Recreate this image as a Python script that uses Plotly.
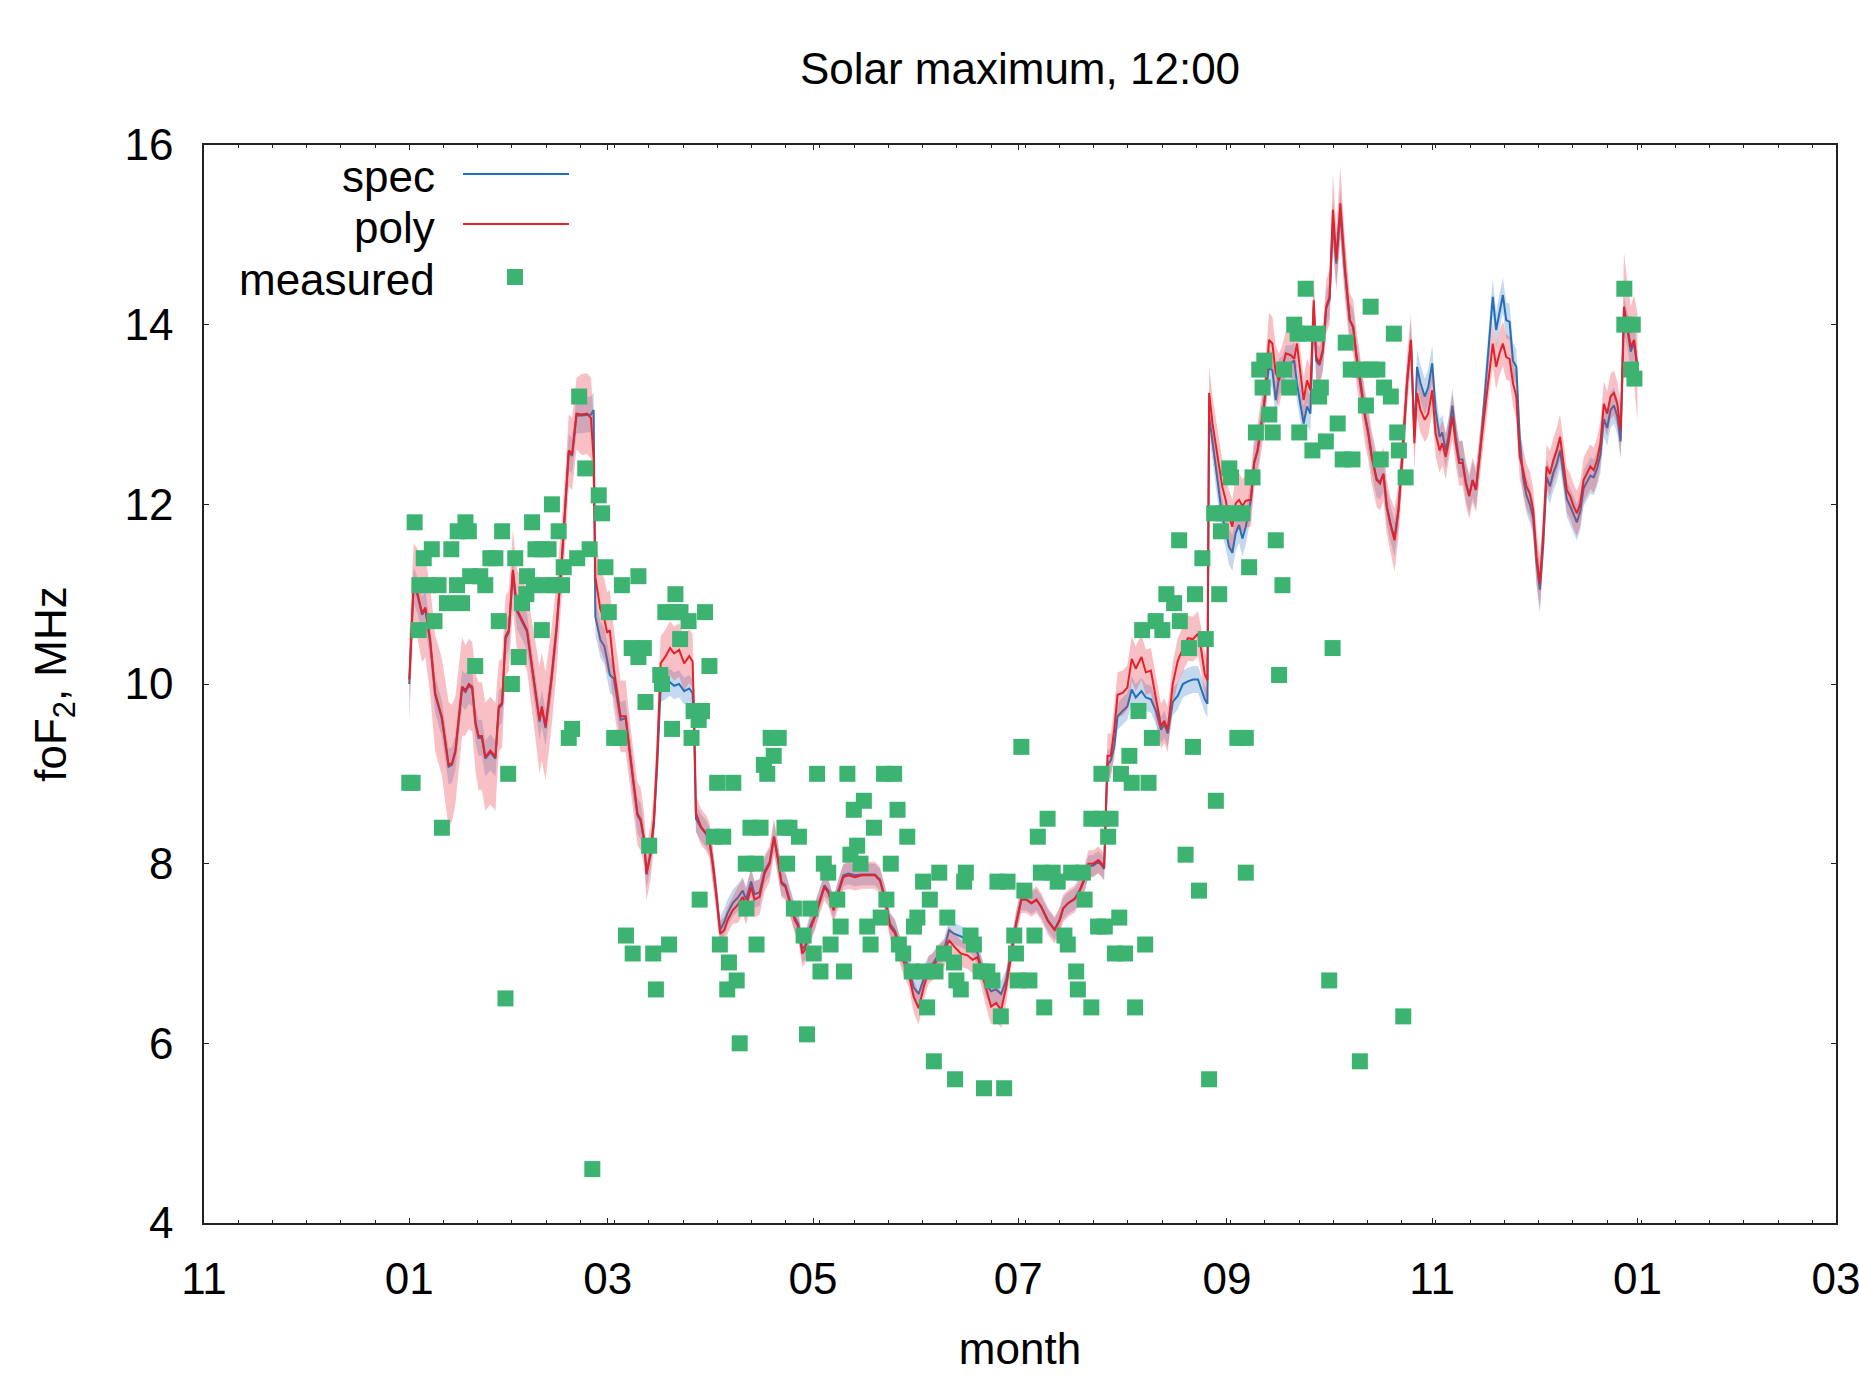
from datetime import datetime, timedelta
import plotly.graph_objects as go

# ---------------- data (day offset from 1 January) ----------------
day = [
    0, 1.3, 2.5, 3.8, 4.8, 6.2, 7.7, 9.7, 11.7, 12.7,
    13.7, 15.7, 16.7, 17.7, 18.7, 19.7, 20.6, 21.6, 22.6, 24.1,
    25.6, 26.6, 27.6, 28.6, 29.6, 30.8, 32, 33.5, 35, 36.5,
    38, 38.7, 39.4, 40.5, 42.3, 43.8, 45.4, 46.4, 47.4, 48.4,
    49.7, 51.3, 52.8, 54, 54.8, 55.3, 56.8, 58, 58.8, 59.6,
    60.8, 62.8, 64.3, 65.8, 67.8, 68.8, 69.8, 70.5, 71.7, 72.7,
    73.7, 74.7, 76.2, 77.5, 78.7, 80.2, 81.7, 83.2, 84.2, 84.7,
    85.2, 86.7, 88.2, 89.2, 90.2, 91.2, 92.4, 93.6, 94.6, 96.1,
    97.6, 99.1, 100.1, 101.6, 102.6, 104.1, 105.6, 107.1, 108.4, 109.6,
    110.6, 111.8, 113.1, 114.6, 115.6, 116.8, 117.6, 119.1, 120.6,
    122.1, 123.4, 124.6, 126.1, 127.5, 129, 130.5, 132.5, 134.5, 136.5,
    138.4, 139.9, 141.4, 142.9, 144.4, 146.4, 148.4, 149.9, 151.4, 152.9,
    154.4, 155.5, 157, 159, 160.4, 161.9, 163.9, 165.9, 167.4, 168.9,
    169.9, 171.4, 172.9, 174.4, 175.9, 177.4, 178.9, 180.4,
    181.9, 183.4, 184.9, 186.4, 187.8, 189.8, 191.8, 193.3, 194.3, 195.8,
    197.8, 199.3, 200.8, 201.8, 203.3, 204.8, 205.8, 206.5, 207.5, 208.5,
    209.5, 210.5, 212, 213.4, 214.7, 215.9, 217.6, 218.9, 220.4, 221.9,
    223.4, 224.4, 225.4, 226.9, 228.4, 229.9, 231.4, 232.9, 234.4, 235.4,
    236.4, 237.2,
    237.7, 238.7, 240.2, 241.6, 242.6, 243.6, 244.6, 245.6, 246.6, 247.6,
    248.6, 250.1, 251.1, 252.1, 253.1, 254.1, 255.5, 256.5, 257.5, 258.5,
    259.5, 260.5, 262, 263, 263.8, 264.8, 265.8, 266.8, 267.8, 268.8,
    269.5, 270.5, 271.5, 272.5, 273.5, 274.5, 275.5, 276.7, 278, 279.5,
    280.5, 281.5, 283, 284, 285, 286, 287.5, 288.5, 289.5, 290.5,
    291.5, 292.8, 294, 295.5, 296.5, 297.7, 298.7, 299.5, 300.5,
    301.8, 302.8, 304, 305, 306.2, 307, 308, 308.8, 310, 311,
    312, 313, 314, 315, 316, 317, 318.5, 320, 321, 322,
    323, 324, 325, 326, 327, 328, 329, 330, 331, 332,
    333, 334, 335, 336, 337, 338, 339, 340, 341, 342,
    343, 344, 345, 346, 347, 348, 349, 350, 351, 352,
    353, 354, 355, 356, 357, 358, 359, 360, 361, 362,
    363, 364, 365,
]

poly = [
    10.05, 11.12, 11.0, 10.79, 10.85, 10.49, 9.9, 9.63, 9.1, 9.12,
    9.26, 9.97, 9.93, 10.0, 9.97, 9.57, 9.42, 9.42, 9.19, 9.26,
    9.19, 9.75, 9.79, 10.53, 10.6, 11.27, 10.83, 10.72, 10.6, 10.19,
    9.79, 9.6, 9.75, 9.53, 10.08, 10.64, 11.42, 11.97, 12.6, 12.56,
    13.01, 13.0, 13.01, 12.96, 12.5, 11.19, 10.83, 10.72, 10.57, 10.6,
    10.16, 9.64, 9.64, 9.16, 8.56, 8.49, 8.27, 7.89, 8.12, 8.49,
    9.23, 10.23, 10.31, 10.4, 10.34, 10.38, 10.23, 10.31, 10.25, 9.6,
    8.56, 8.41, 8.34, 8.26, 8.0, 7.67, 7.22, 7.26, 7.37, 7.48,
    7.54, 7.63, 7.52, 7.74, 7.6, 7.63, 7.89, 8.0, 8.3, 8.04,
    7.78, 7.74, 7.56, 7.37, 7.3, 7.0, 7.04, 7.26, 7.41,
    7.6, 7.74, 7.67, 7.48, 7.67, 7.85, 7.87, 7.85, 7.87, 7.87,
    7.87, 7.81, 7.6, 7.3, 7.22, 6.96, 6.78, 6.52, 6.39, 6.63,
    6.82, 6.85, 6.93, 7.0, 7.15, 7.08, 7.0, 6.98, 6.93, 6.96,
    6.82, 6.59, 6.41, 6.45, 6.37, 6.63, 7.0, 7.34,
    7.6, 7.6, 7.56, 7.6, 7.52, 7.36, 7.26, 7.37, 7.5, 7.56,
    7.61, 7.71, 7.85, 8.0, 8.0, 8.04, 8.0, 7.96, 9.2, 9.2,
    9.49, 9.88, 9.9, 9.96, 10.28, 10.17, 10.3, 10.13, 10.15, 9.83,
    9.53, 9.59, 9.49, 10.0, 10.26, 10.39, 10.51, 10.5, 10.56, 10.37,
    10.11, 10.04,
    13.24, 12.9, 12.53, 12.2, 12.05, 11.86, 11.75, 12.01, 12.05, 11.98,
    12.04, 12.05, 12.47, 12.6, 12.86, 13.12, 13.83, 13.79, 13.46, 13.38,
    13.53, 13.68, 13.66, 13.62, 13.79, 13.46, 13.16, 13.38, 13.27, 14.27,
    13.64, 13.57, 13.72, 14.2, 14.31, 15.28, 14.72, 15.35, 14.65, 14.05,
    13.98, 13.64, 13.27, 12.98, 12.79, 12.53, 12.27, 12.23, 12.34, 11.97,
    11.79, 11.6, 11.94, 12.72, 13.35, 13.83, 12.68, 13.24, 13.05,
    12.94, 13.01, 13.27, 12.79, 12.6, 12.68, 12.53, 12.68, 12.98, 12.68,
    12.46, 12.46, 12.23, 12.09, 12.27, 12.16, 12.68, 13.16, 13.49, 13.79,
    13.53, 13.68, 13.79, 13.64, 13.62, 13.35, 13.2, 12.53, 12.38, 12.2,
    12.12, 11.94, 11.42, 11.12, 11.68, 12.42, 12.34, 12.49, 12.6, 12.75,
    12.46, 12.16, 12.09, 11.98, 11.9, 12.01, 12.27, 12.34, 12.42, 12.38,
    12.49, 12.68, 13.12, 13.01, 13.2, 13.24, 13.12, 12.83, 14.2, 13.98,
    13.75, 13.83, 13.53,
]

poly_err = [
    0.45, 0.45, 0.5, 0.55, 0.55, 0.6, 0.65, 0.65, 0.7, 0.65,
    0.6, 0.55, 0.5, 0.5, 0.5, 0.55, 0.6, 0.6, 0.6, 0.6,
    0.6, 0.5, 0.5, 0.45, 0.45, 0.45, 0.45, 0.45, 0.45, 0.5,
    0.55, 0.6, 0.6, 0.6, 0.55, 0.5, 0.45, 0.4, 0.4, 0.4,
    0.4, 0.45, 0.45, 0.45, 0.45, 0.45, 0.45, 0.45, 0.45, 0.45,
    0.45, 0.4, 0.4, 0.35, 0.35, 0.35, 0.3, 0.3, 0.3, 0.3,
    0.3, 0.3, 0.3, 0.3, 0.3, 0.3, 0.3, 0.3, 0.3, 0.3,
    0.2, 0.2, 0.2, 0.2, 0.2, 0.2, 0.15, 0.15, 0.15, 0.15,
    0.2, 0.2, 0.2, 0.2, 0.2, 0.2, 0.2, 0.2, 0.2, 0.2,
    0.15, 0.15, 0.15, 0.15, 0.15, 0.15, 0.15, 0.15, 0.15,
    0.15, 0.15, 0.15, 0.15, 0.15, 0.15, 0.15, 0.15, 0.15, 0.15,
    0.15, 0.15, 0.15, 0.15, 0.15, 0.15, 0.15, 0.18, 0.18, 0.15,
    0.15, 0.15, 0.15, 0.15, 0.15, 0.15, 0.15, 0.15, 0.15, 0.15,
    0.15, 0.18, 0.2, 0.2, 0.2, 0.18, 0.15, 0.15,
    0.15, 0.15, 0.15, 0.15, 0.15, 0.15, 0.15, 0.15, 0.15, 0.15,
    0.15, 0.15, 0.15, 0.15, 0.15, 0.15, 0.15, 0.15, 0.25, 0.25,
    0.25, 0.25, 0.25, 0.25, 0.25, 0.25, 0.25, 0.25, 0.25, 0.25,
    0.25, 0.25, 0.25, 0.25, 0.25, 0.25, 0.25, 0.25, 0.25, 0.25,
    0.25, 0.25,
    0.3, 0.3, 0.3, 0.3, 0.3, 0.3, 0.3, 0.3, 0.3, 0.3,
    0.3, 0.3, 0.3, 0.3, 0.3, 0.3, 0.3, 0.3, 0.3, 0.3,
    0.25, 0.25, 0.25, 0.25, 0.25, 0.25, 0.25, 0.25, 0.25, 0.3,
    0.25, 0.25, 0.25, 0.3, 0.3, 0.4, 0.35, 0.4, 0.35, 0.3,
    0.3, 0.3, 0.3, 0.3, 0.3, 0.3, 0.3, 0.3, 0.3, 0.3,
    0.3, 0.35, 0.3, 0.3, 0.3, 0.3, 0.3, 0.25, 0.25,
    0.25, 0.25, 0.25, 0.25, 0.25, 0.25, 0.25, 0.25, 0.25, 0.25,
    0.25, 0.25, 0.25, 0.25, 0.25, 0.25, 0.25, 0.25, 0.25, 0.25,
    0.25, 0.25, 0.25, 0.25, 0.25, 0.25, 0.25, 0.25, 0.25, 0.25,
    0.25, 0.25, 0.3, 0.3, 0.25, 0.25, 0.25, 0.25, 0.25, 0.25,
    0.25, 0.25, 0.25, 0.25, 0.25, 0.25, 0.25, 0.25, 0.25, 0.25,
    0.25, 0.25, 0.25, 0.25, 0.25, 0.25, 0.25, 0.3, 0.6, 0.5,
    0.45, 0.5, 0.6,
]

spec = [
    10.0, 11.1, 10.98, 10.77, 10.83, 10.47, 9.88, 9.61, 9.08, 9.1,
    9.24, 9.95, 9.91, 9.98, 9.95, 9.55, 9.4, 9.4, 9.17, 9.24,
    9.17, 9.73, 9.77, 10.5, 10.58, 11.25, 10.81, 10.7, 10.58, 10.17,
    9.77, 9.58, 9.73, 9.51, 10.06, 10.62, 11.4, 11.95, 12.58, 12.54,
    12.99, 12.99, 13.0, 13.0, 13.05, 10.75, 10.49, 10.42, 10.27, 10.1,
    10.06, 9.6, 9.62, 9.14, 8.54, 8.47, 8.25, 7.88, 8.1, 8.45,
    9.1, 9.95, 9.98, 10.02, 9.98, 10.0, 9.92, 9.95, 9.9, 9.4,
    8.5, 8.4, 8.33, 8.25, 8.0, 7.68, 7.26, 7.35, 7.45, 7.56,
    7.62, 7.7, 7.6, 7.8, 7.66, 7.68, 7.92, 8.02, 8.3, 8.05,
    7.8, 7.76, 7.58, 7.4, 7.33, 7.05, 7.08, 7.3, 7.43,
    7.62, 7.76, 7.7, 7.5, 7.7, 7.87, 7.89, 7.87, 7.88, 7.88,
    7.88, 7.82, 7.62, 7.33, 7.25, 7.0, 6.85, 6.62, 6.55, 6.72,
    6.86, 6.88, 6.97, 7.05, 7.26, 7.22, 7.19, 7.15, 7.1, 7.0,
    6.86, 6.66, 6.58, 6.6, 6.55, 6.7, 7.03, 7.35,
    7.6, 7.6, 7.56, 7.6, 7.52, 7.37, 7.27, 7.38, 7.5, 7.56,
    7.61, 7.7, 7.83, 7.97, 7.98, 8.02, 7.98, 7.94, 9.1, 9.15,
    9.3, 9.64, 9.7, 9.75, 9.94, 9.85, 9.92, 9.85, 9.83, 9.7,
    9.49, 9.55, 9.45, 9.8, 9.87, 10.0, 10.03, 10.05, 10.05, 9.95,
    9.83, 9.78,
    12.98, 12.7, 12.24, 11.86, 11.72, 11.53, 11.46, 11.68, 11.77, 11.62,
    11.75, 12.05, 12.46, 12.6, 12.86, 13.12, 13.53, 13.49, 13.16, 13.42,
    13.45, 13.57, 13.57, 13.6, 13.35, 13.12, 12.9, 13.09, 13.01, 14.2,
    13.6, 13.55, 13.7, 14.18, 14.28, 15.15, 14.68, 15.25, 14.62, 14.05,
    13.97, 13.65, 13.3, 13.0, 12.8, 12.55, 12.28, 12.25, 12.34, 11.98,
    11.8, 11.62, 11.95, 12.7, 13.35, 13.83, 12.75, 13.53, 13.35,
    13.2, 13.3, 13.57, 13.05, 12.75, 12.8, 12.6, 12.75, 13.1, 12.75,
    12.5, 12.5, 12.25, 12.1, 12.27, 12.16, 12.7, 13.4, 13.9, 14.31,
    13.94, 14.15, 14.33, 14.05, 14.03, 13.6, 13.53, 12.75, 12.3, 12.1,
    12.0, 11.85, 11.35, 11.05, 11.55, 12.3, 12.2, 12.35, 12.45, 12.6,
    12.35, 12.06, 11.98, 11.88, 11.8, 11.92, 12.18, 12.25, 12.32, 12.3,
    12.4, 12.55, 12.95, 12.85, 13.05, 13.1, 12.98, 12.7, 14.1, 13.95,
    13.7, 13.8, 13.5,
]

spec_err = [
    0.2, 0.2, 0.2, 0.2, 0.2, 0.2, 0.2, 0.2, 0.2, 0.2,
    0.2, 0.2, 0.2, 0.2, 0.2, 0.2, 0.2, 0.2, 0.2, 0.2,
    0.2, 0.2, 0.2, 0.2, 0.2, 0.2, 0.2, 0.2, 0.2, 0.2,
    0.2, 0.2, 0.2, 0.2, 0.2, 0.2, 0.2, 0.2, 0.2, 0.2,
    0.2, 0.2, 0.2, 0.2, 0.2, 0.2, 0.2, 0.2, 0.2, 0.2,
    0.2, 0.2, 0.2, 0.2, 0.2, 0.2, 0.15, 0.15, 0.15, 0.15,
    0.15, 0.15, 0.15, 0.15, 0.15, 0.15, 0.15, 0.15, 0.15, 0.15,
    0.15, 0.15, 0.15, 0.15, 0.15, 0.15, 0.15, 0.15, 0.15, 0.15,
    0.15, 0.15, 0.15, 0.15, 0.15, 0.15, 0.15, 0.15, 0.15, 0.15,
    0.15, 0.15, 0.15, 0.15, 0.15, 0.15, 0.15, 0.15, 0.15,
    0.12, 0.12, 0.12, 0.12, 0.12, 0.12, 0.12, 0.12, 0.12, 0.12,
    0.12, 0.12, 0.12, 0.12, 0.12, 0.12, 0.12, 0.15, 0.15, 0.15,
    0.12, 0.12, 0.12, 0.12, 0.12, 0.12, 0.12, 0.12, 0.12, 0.12,
    0.12, 0.15, 0.15, 0.15, 0.15, 0.12, 0.12, 0.12,
    0.12, 0.12, 0.12, 0.12, 0.12, 0.12, 0.12, 0.12, 0.12, 0.12,
    0.12, 0.12, 0.12, 0.12, 0.12, 0.12, 0.12, 0.12, 0.15, 0.15,
    0.15, 0.15, 0.15, 0.15, 0.15, 0.15, 0.15, 0.15, 0.15, 0.15,
    0.15, 0.15, 0.15, 0.15, 0.15, 0.15, 0.15, 0.15, 0.15, 0.15,
    0.15, 0.15,
    0.2, 0.2, 0.2, 0.2, 0.2, 0.2, 0.2, 0.2, 0.2, 0.2,
    0.2, 0.2, 0.2, 0.2, 0.2, 0.2, 0.2, 0.2, 0.2, 0.2,
    0.2, 0.2, 0.2, 0.2, 0.2, 0.2, 0.2, 0.2, 0.2, 0.2,
    0.2, 0.2, 0.2, 0.2, 0.2, 0.25, 0.25, 0.25, 0.25, 0.2,
    0.2, 0.2, 0.2, 0.2, 0.2, 0.2, 0.2, 0.2, 0.2, 0.2,
    0.2, 0.2, 0.2, 0.2, 0.2, 0.2, 0.2, 0.2, 0.2,
    0.2, 0.2, 0.2, 0.2, 0.2, 0.2, 0.2, 0.2, 0.2, 0.2,
    0.2, 0.2, 0.2, 0.2, 0.2, 0.2, 0.2, 0.2, 0.2, 0.2,
    0.2, 0.2, 0.2, 0.2, 0.2, 0.2, 0.2, 0.2, 0.2, 0.2,
    0.2, 0.2, 0.25, 0.25, 0.2, 0.2, 0.2, 0.2, 0.2, 0.2,
    0.2, 0.2, 0.2, 0.2, 0.2, 0.2, 0.2, 0.2, 0.2, 0.2,
    0.2, 0.2, 0.2, 0.2, 0.2, 0.2, 0.2, 0.2, 0.2, 0.2,
    0.2, 0.2, 0.2,
]

meas_day = [
    0, 1, 1.6, 2.8, 3, 4.3, 5.7, 6.7, 7.5, 8.7,
    9.7, 11.2, 12.5, 14.2, 14.4, 15.7, 16.7, 17.7, 18.1, 19.6,
    21.1, 22.6, 24.1, 25.6, 26.6, 27.6, 28.6, 29.4, 30.5, 31.5,
    32.5, 33.5, 35, 34.8, 36.5, 37, 37.5, 39.4, 39.4, 40.9,
    41.4, 42.4, 42.9, 44.4, 45.4, 45.9, 47.4, 48.4, 49.9, 50.5,
    52.3, 53.6, 54.4, 56.3, 57.3, 58.3, 59.3,
    60.9, 62.4, 63.2, 64.4, 66.4, 66.1, 68.1, 68.1, 69.7, 70.2,
    71.3, 72.5, 73.3, 74.6, 75.1, 76.1, 77.2, 78.1, 78.6, 79.1,
    80.5, 80.6, 83, 83.9, 84.5, 86, 86.3, 87, 87.9, 89.2,
    90.5, 91.5, 92.3, 93.3, 94.5, 95, 96.3, 97.3, 98.2, 100,
    100.2, 101.4, 103, 103.2, 104.4, 105.4, 106.4, 107.4, 108.3, 109.8,
    111.5, 113, 112.3, 114.3, 115.8, 117.2, 118.2, 119.2, 120.2,
    121.2, 122.2, 123.2, 124.5, 125.2, 127.2, 128.2, 129.2, 130.2, 131.1,
    132.1, 133.1, 134.1, 135.1, 136.1, 137.1, 138.1, 140.1, 141.1, 141.8,
    143.1, 144.1, 145.1, 145.5, 146.8, 148, 149.3, 150, 151, 152.7,
    152.9, 153.9, 154.7, 155.9, 156.4, 157.5, 158.9, 159.9, 161.9, 162.2,
    162.6, 163.9, 164.9, 165.4, 166.8, 167.8, 169.8, 170.8, 171.8, 173.3,
    174.8, 175.8, 176.8, 177.8, 179.8, 180.3, 180.8,
    181.9, 182.8, 184.3, 185.8, 186.8, 187.7, 188.7, 189.7, 191.2, 192.7,
    194.7, 195.7, 196.7, 198.2, 198.7, 200.2, 200.7, 202.7, 202.7, 204.7,
    205.7, 205.7, 206.7, 207.7, 208.4, 209.7, 211, 211.5, 212.7, 214,
    214.7, 215.7, 216.7, 217.8, 218.7, 219.7, 220.7, 221.8, 223.8, 225,
    227.3, 229, 228.8, 230.7, 231.7, 232.9, 233.5, 234.7, 235.7, 236.7,
    237.7,
    239.2, 239.7, 240.7, 241.2, 241.7, 243.7, 244.2, 244.6, 246.1, 247.6,
    248.6, 248.6, 249.6, 250.6, 251.6, 252.6, 253.6, 254.1, 255.6, 256.6,
    257.5, 258.5, 259.5, 260, 261.5, 263, 264, 264.5, 266.4, 266.9,
    268.4, 269.9, 270.4, 270.9, 272.4, 273.4, 274.4, 275.9, 277.4, 278.3,
    279.8, 280.3, 282.5, 282.8, 284.3, 285.7, 285.7, 287.7, 288.7, 289.7,
    291.7, 292.6, 293.6, 294.1, 295.4, 296.1, 361.1, 361.1, 363.6, 363.1,
    364.1,
]

meas_val = [
    8.9, 8.9, 11.8, 10.6, 11.1, 11.4, 11.1, 11.5, 10.7, 11.1,
    8.4, 10.9, 11.5, 11.1, 11.7, 10.9, 11.8, 11.7, 11.2, 10.2,
    11.2, 11.1, 11.4, 11.4, 10.7, 11.7, 6.5, 9.0, 10.0, 11.4,
    10.3, 10.9, 11.2, 11.0, 11.8, 11.1, 11.5, 11.5, 10.6, 11.1,
    11.5, 12.0, 11.1, 11.7, 11.1, 11.3, 9.4, 9.5, 11.4, 13.2,
    12.4, 11.5, 4.6, 12.1, 11.9, 11.3, 10.8,
    9.4, 9.4, 11.1, 7.2, 7.0, 10.4, 11.2, 10.3, 10.4, 9.8,
    8.2, 7.0, 6.6, 10.1, 10.0, 10.8, 7.1, 9.5, 10.8, 11.0,
    10.5, 10.8, 10.7, 9.4, 9.7, 9.6, 7.6, 9.7, 10.8, 10.2,
    8.3, 8.9, 7.1, 8.3, 6.6, 6.9, 8.9, 6.7, 6.0, 8.0,
    7.5, 8.4, 8.0, 7.1, 8.4, 9.1, 9.0, 9.4, 9.2, 9.4,
    8.4, 8.4, 8.0, 7.5, 8.3, 7.2, 6.1, 7.5, 7.0,
    9.0, 6.8, 8.0, 7.9, 7.1, 7.6, 7.3, 6.8, 9.0, 8.1,
    8.6, 8.2, 8.0, 8.7, 7.3, 7.1, 8.4, 7.4, 9.0, 7.6,
    8.0, 9.0, 8.6, 7.1, 7.0, 8.3, 6.8, 7.3, 7.4, 7.8,
    6.8, 6.4, 7.6, 5.8, 6.8, 7.9, 7.0, 7.4, 6.9, 5.6,
    6.7, 6.6, 7.8, 7.9, 7.2, 7.1, 6.8, 5.5, 6.8, 6.7,
    7.8, 6.3, 5.5, 7.8, 7.2, 7.0, 6.7,
    9.3, 7.7, 6.7, 7.2, 8.3, 7.9, 6.4, 8.5, 7.9, 7.8,
    7.2, 7.1, 7.9, 6.8, 6.6, 7.9, 7.6, 6.4, 8.5, 7.3,
    8.5, 9.0, 7.3, 8.3, 8.5, 7.0, 7.4, 9.0, 7.0, 9.2,
    8.9, 6.4, 9.7, 10.6, 7.1, 8.9, 9.4, 10.7, 10.6, 11.0,
    10.9, 10.7, 11.6, 8.1, 10.4, 9.3, 11.0, 7.7, 11.4, 10.5,
    5.6,
    11.9, 8.7, 11.0, 11.7, 11.9, 12.4, 12.3, 11.9, 9.4, 11.9,
    9.4, 7.9, 11.3, 12.3, 12.8, 13.5, 13.3, 13.6, 13.0, 12.8,
    11.6, 10.1, 11.1, 13.5, 13.3, 14.0, 13.9, 12.8, 14.4, 13.9,
    12.6, 13.9, 13.2, 13.3, 12.7, 6.7, 10.4, 12.9, 12.5, 13.8,
    13.5, 12.5, 5.8, 13.5, 13.1, 14.2, 13.5, 13.5, 12.5, 13.3,
    13.2, 13.9, 12.8, 12.6, 6.3, 12.3, 14.4, 14.0, 14.0, 13.5,
    13.4,
]

y_ticks = [4, 6, 8, 10, 12, 14, 16]
series_names = ["spec", "poly", "measured"]

assert len(day) == len(poly) == len(poly_err) == len(spec) == len(spec_err), (
    len(day), len(poly), len(poly_err), len(spec), len(spec_err))
assert len(meas_day) == len(meas_val), (len(meas_day), len(meas_val))

# ---------------- styling ----------------
FONT = "Liberation Sans, Arial, Helvetica, sans-serif"
FS = 44
BLUE = "#2470b8"
RED = "#e3222a"
GREEN = "#3cb371"
BLUE_FILL = "rgba(60,130,200,0.30)"
RED_FILL = "rgba(232,60,70,0.32)"

base = datetime(2014, 1, 1)
x = [base + timedelta(days=d) for d in day]
mx = [base + timedelta(days=d) for d in meas_day]


def band(vals, errs):
    up = [v + e for v, e in zip(vals, errs)]
    lo = [v - e for v, e in zip(vals, errs)]
    return x + x[::-1], up + lo[::-1]


fig = go.Figure()
bx, by = band(spec, spec_err)
fig.add_trace(go.Scatter(x=bx, y=by, fill="toself", fillcolor=BLUE_FILL,
                         line=dict(width=0), mode="lines", hoverinfo="skip",
                         showlegend=False))
fig.add_trace(go.Scatter(x=x, y=spec, mode="lines", line=dict(color=BLUE, width=2),
                         name=series_names[0], showlegend=False))
bx, by = band(poly, poly_err)
fig.add_trace(go.Scatter(x=bx, y=by, fill="toself", fillcolor=RED_FILL,
                         line=dict(width=0), mode="lines", hoverinfo="skip",
                         showlegend=False))
fig.add_trace(go.Scatter(x=x, y=poly, mode="lines", line=dict(color=RED, width=2),
                         name=series_names[1], showlegend=False))
fig.add_trace(go.Scatter(x=mx, y=meas_val, mode="markers",
                         marker=dict(symbol="square", size=16, color=GREEN,
                                     line=dict(width=0)),
                         name=series_names[2], showlegend=False))

# ---------------- manual legend (text left of sample, gnuplot style) ----------------
W, H = 1859, 1377
L, R, T, B = 204, 23, 145, 154
pw, ph = W - L - R, H - T - B


def px(fx):
    return (fx - L) / pw


def py(fy):
    return 1 - (fy - T) / ph


rows_y = [176, 228, 279]
for name, fy in zip(series_names, rows_y):
    fig.add_annotation(text=name, xref="paper", yref="paper", x=px(437), y=py(fy),
                       xanchor="right", yanchor="middle", showarrow=False,
                       font=dict(family=FONT, size=FS, color="black"))
fig.add_shape(type="line", xref="paper", yref="paper", x0=px(463), x1=px(569),
              y0=py(174), y1=py(174), line=dict(color=BLUE, width=2))
fig.add_shape(type="line", xref="paper", yref="paper", x0=px(463), x1=px(569),
              y0=py(224), y1=py(224), line=dict(color=RED, width=2))
fig.add_shape(type="rect", xref="paper", yref="paper", xsizemode="pixel",
              ysizemode="pixel", xanchor=px(515), yanchor=py(277),
              x0=-8, x1=8, y0=-8, y1=8, fillcolor=GREEN, line=dict(width=0))

axis_common = dict(showline=True, linecolor="#222222", linewidth=1.5, mirror="allticks",
                   ticks="inside", tickcolor="#222222", tickwidth=1.2, showgrid=False,
                   zeroline=False, automargin=False, ticklabeloverflow="allow",
                   tickfont=dict(family=FONT, size=FS, color="black"))

fig.update_layout(
    width=W, height=H, autosize=False,
    margin=dict(l=L, r=R, t=T, b=B, autoexpand=False),
    paper_bgcolor="white", plot_bgcolor="white",
    title=dict(text="Solar maximum, 12:00", x=0.5, xref="paper", xanchor="center",
               y=1 - 69 / H, yanchor="middle", automargin=False,
               font=dict(family=FONT, size=FS, color="black")),
    xaxis=dict(**axis_common, type="date",
               range=[datetime(2013, 11, 1), datetime(2015, 3, 1)],
               tick0="2013-11-01", dtick="M2", tickformat="%m", ticklen=5,
               ticklabelstandoff=16,
               minor=dict(ticks="inside", ticklen=3, tickcolor="#222222",
                          tick0="2013-11-01", dtick=10.17 * 86400000),
               title=dict(text="month", standoff=32,
                          font=dict(family=FONT, size=FS, color="black"))),
    yaxis=dict(**axis_common, range=[4, 16], tickvals=y_ticks, ticklen=5,
               ticklabelstandoff=20,
               title=dict(text="foF<sub>2</sub>, MHz", standoff=44,
                          font=dict(family=FONT, size=FS, color="black"))),
)

fig.write_html("out.html")
